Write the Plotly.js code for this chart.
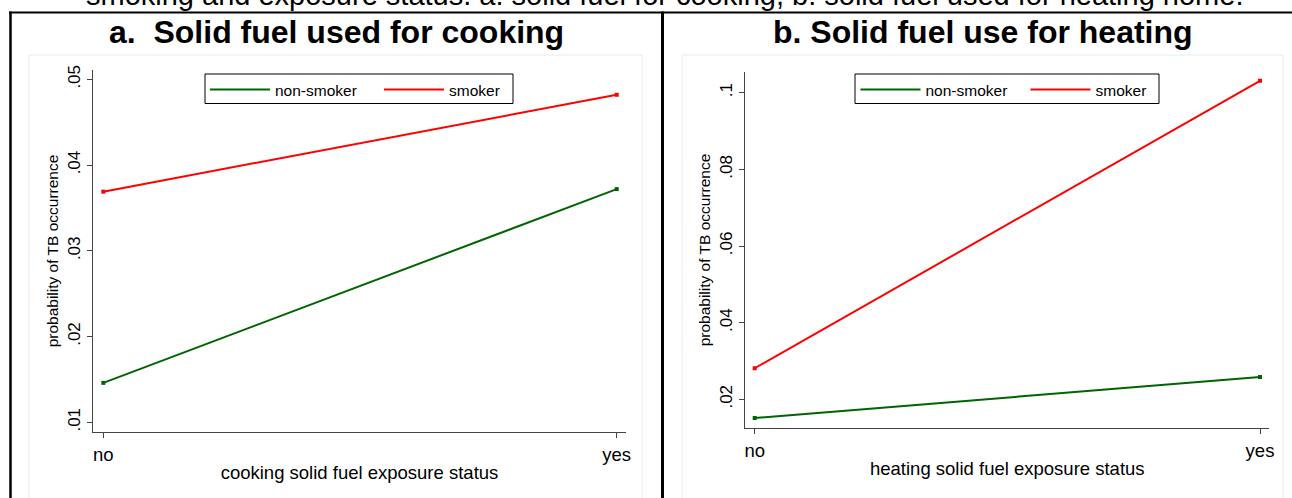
<!DOCTYPE html>
<html><head><meta charset="utf-8">
<script src="https://cdn.plot.ly/plotly-3.0.1.min.js"></script>
<style>html,body{margin:0;padding:0;background:#fff;overflow:hidden}#chart{width:1292px;height:498px}</style>
</head><body><div id="chart"></div>
<script>
// ---- data ----
const categories = ['no', 'yes'];
const seriesNames = ['non-smoker', 'smoker'];
const cookingNonSmoker = [0.0146, 0.0372];
const cookingSmoker = [0.0369, 0.0482];
const heatingNonSmoker = [0.0151, 0.0258];
const heatingSmoker = [0.0281, 0.1031];
const cookingTickVals = [0.01, 0.02, 0.03, 0.04, 0.05];
const cookingTickText = ['.01', '.02', '.03', '.04', '.05'];
const heatingTickVals = [0.02, 0.04, 0.06, 0.08, 0.1];
const heatingTickText = ['.02', '.04', '.06', '.08', '.1'];
const panelTitles = ['a.  Solid fuel used for cooking', 'b. Solid fuel use for heating'];
const xTitles = ['cooking solid fuel exposure status', 'heating solid fuel exposure status'];
const yTitle = 'probability of TB occurrence';
const caption = 'smoking and exposure status. a: solid fuel for cooking, b: solid fuel used for heating home.';

// ---- layout helpers ----
const W = 1292, H = 498;
const px = x => x / W;
const py = y => 1 - y / H;
const FONT = 'Liberation Sans, Arial, sans-serif';
const GREEN = '#006400', RED = '#ff0000';

function lineTrace(y, name, color, xa, ya, leg) {
  return {x: categories, y: y, name: name, type: 'scatter', mode: 'lines',
    line: {color: color, width: 2}, xaxis: xa, yaxis: ya, legend: leg, hoverinfo: 'skip'};
}
function markerTrace(y, color, xa, ya) {
  return {x: categories, y: y, type: 'scatter', mode: 'markers', showlegend: false,
    marker: {symbol: 'square', size: 4, color: color}, xaxis: xa, yaxis: ya, hoverinfo: 'skip'};
}

const data = [
  lineTrace(cookingNonSmoker, seriesNames[0], GREEN, 'x', 'y', 'legend'),
  lineTrace(cookingSmoker, seriesNames[1], RED, 'x', 'y', 'legend'),
  markerTrace(cookingNonSmoker, GREEN, 'x', 'y'),
  markerTrace(cookingSmoker, RED, 'x', 'y'),
  lineTrace(heatingNonSmoker, seriesNames[0], GREEN, 'x2', 'y2', 'legend2'),
  lineTrace(heatingSmoker, seriesNames[1], RED, 'x2', 'y2', 'legend2'),
  markerTrace(heatingNonSmoker, GREEN, 'x2', 'y2'),
  markerTrace(heatingSmoker, RED, 'x2', 'y2')
];

function xAxis(domain, range, anchor, title) {
  return {domain: domain, anchor: anchor, type: 'category', range: range,
    showline: true, linecolor: '#444', linewidth: 1.3, ticks: 'outside', ticklen: 5,
    tickcolor: '#444', tickwidth: 1, tickfont: {size: 18.5, color: '#000', family: FONT},
    showgrid: false, zeroline: false, automargin: false,
    title: {text: title, font: {size: 18.5, color: '#000', family: FONT}, standoff: 2}};
}
function yAxis(domain, range, anchor, tv, tt) {
  return {domain: domain, anchor: anchor, range: range, tickvals: tv, ticktext: tt,
    tickangle: -90, showline: true, linecolor: '#444', linewidth: 1.3, ticks: 'outside',
    ticklen: 5, tickcolor: '#444', tickwidth: 1,
    tickfont: {size: 17, color: '#000', family: FONT},
    showgrid: false, zeroline: false, automargin: false,
    title: {text: yTitle, font: {size: 15.5, color: '#000', family: FONT}, standoff: 2}};
}

const legendCommon = {orientation: 'h', xanchor: 'left', yanchor: 'top',
  borderwidth: 0, bgcolor: 'rgba(0,0,0,0)',
  font: {size: 15.5, color: '#000', family: FONT}, itemwidth: 60, tracegroupgap: 0};

function legendBox(x0, x1) {
  return {type: 'rect', xref: 'paper', yref: 'paper', x0: px(x0), x1: px(x1), y0: py(103.5), y1: py(74),
    line: {color: '#000', width: 1}, fillcolor: '#fff', layer: 'above'};
}

const layout = {
  width: W, height: H,
  margin: {l: 0, r: 0, t: 0, b: 0},
  paper_bgcolor: '#fff', plot_bgcolor: 'rgba(0,0,0,0)',
  font: {family: FONT, color: '#000'},
  showlegend: true,
  xaxis: xAxis([px(93), px(626)], [-0.0201, 1.0181], 'y', xTitles[0]),
  yaxis: yAxis([py(432), py(70)], [0.00887, 0.05109], 'x', cookingTickVals, cookingTickText),
  xaxis2: xAxis([px(745.3), px(1269.3)], [-0.0186, 1.0184], 'y2', xTitles[1]),
  yaxis2: yAxis([py(428), py(72)], [0.01251, 0.1054], 'x2', heatingTickVals, heatingTickText),
  legend: Object.assign({x: px(205), y: py(73), entrywidth: 99}, legendCommon),
  legend2: Object.assign({x: px(855.5), y: py(73), entrywidth: 95}, legendCommon),
  shapes: [
    {type: 'rect', xref: 'paper', yref: 'paper', x0: px(29), x1: px(642), y0: py(510), y1: py(55),
      line: {color: '#e6ecee', width: 1}, fillcolor: 'rgba(0,0,0,0)', layer: 'below'},
    {type: 'rect', xref: 'paper', yref: 'paper', x0: px(682), x1: px(1283), y0: py(510), y1: py(55),
      line: {color: '#e6ecee', width: 1}, fillcolor: 'rgba(0,0,0,0)', layer: 'below'},
    {type: 'line', xref: 'paper', yref: 'paper', x0: px(9), x1: px(1300), y0: py(12.5), y1: py(12.5),
      line: {color: '#000', width: 2}},
    {type: 'line', xref: 'paper', yref: 'paper', x0: px(10.5), x1: px(10.5), y0: py(11.5), y1: py(510),
      line: {color: '#000', width: 2.5}},
    {type: 'line', xref: 'paper', yref: 'paper', x0: px(662.5), x1: px(662.5), y0: py(11.5), y1: py(510),
      line: {color: '#000', width: 3}},
    legendBox(205, 513),
    legendBox(855, 1159)
  ],
  annotations: [
    {text: caption, xref: 'paper', yref: 'paper', x: px(664), y: py(13.5), xanchor: 'center', yanchor: 'bottom',
      showarrow: false, font: {size: 29, color: '#000', family: FONT}},
    {text: '<b>' + panelTitles[0] + '</b>', xref: 'paper', yref: 'paper', x: px(336), y: py(32),
      xanchor: 'center', yanchor: 'middle', showarrow: false, font: {size: 32, color: '#000', family: FONT}},
    {text: '<b>' + panelTitles[1] + '</b>', xref: 'paper', yref: 'paper', x: px(983), y: py(32),
      xanchor: 'center', yanchor: 'middle', showarrow: false, font: {size: 32, color: '#000', family: FONT}}
  ]
};

Plotly.newPlot('chart', data, layout, {staticPlot: true, displayModeBar: false});
</script>
</body></html>
